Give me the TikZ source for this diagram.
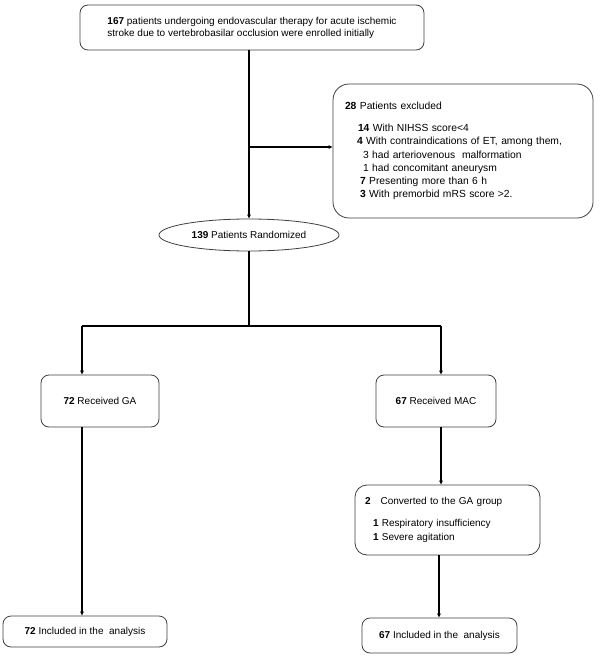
\documentclass[tikz,border=0pt]{standalone}
\usepackage{fontspec}
\setmainfont{Liberation Sans}
\usetikzlibrary{arrows.meta,shapes.geometric}
\begin{document}
\begin{tikzpicture}[x=1pt,y=-1pt,
  box/.style={draw=black!75, line width=0.8pt, rounded corners=8pt, inner sep=0pt, font=\fontsize{10}{12}\selectfont},
  conn/.style={line width=1.4pt, black},
  arr/.style={conn, -{Triangle[length=4pt,width=3.5pt]}}]
\useasboundingbox (0,0) rectangle (600,658);
\fill[white] (0,0) rectangle (600,658);

\node[box, minimum width=344pt, minimum height=45pt, align=left] (top) at (252,27.5)
  {\textbf{167} patients undergoing endovascular therapy for acute ischemic\\
   stroke due to vertebrobasilar occlusion were enrolled initially};

\node[box, rounded corners=16pt, minimum width=260pt, minimum height=134pt, align=left,
      font=\fontsize{10.3}{13.2}\selectfont, text width=236pt] (excl) at (463,151)
  {\textbf{28} Patients excluded\\[9pt]
   \hspace*{13pt}\textbf{14} With NIHSS score<4\\
   \hspace*{12pt}\textbf{4} With contraindications of ET, among them,\\
   \hspace*{18pt}3 had arteriovenous\ \ malformation\\
   \hspace*{18pt}1 had concomitant aneurysm\\
   \hspace*{15pt}\textbf{7} Presenting more than 6 h\\
   \hspace*{15pt}\textbf{3} With premorbid mRS score >2.};

\node[draw=black!75, line width=0.8pt, ellipse, minimum width=180pt, minimum height=32pt, inner sep=0pt,
      font=\fontsize{10}{12}\selectfont] (rand) at (249,235) {\textbf{139} Patients Randomized};

\node[box, minimum width=118pt, minimum height=52pt] (ga) at (100,401) {\textbf{72} Received GA};
\node[box, minimum width=120pt, minimum height=52pt] (mac) at (436,401) {\textbf{67} Received MAC};

\node[box, rounded corners=12pt, minimum width=185pt, minimum height=70pt, align=left, text width=165pt,
      font=\fontsize{10}{14}\selectfont] (conv) at (447.5,520)
  {\textbf{2}\ \ \ Converted to the GA group\\[8pt]
   \hspace*{8pt}\textbf{1} Respiratory insufficiency\\
   \hspace*{8pt}\textbf{1} Severe agitation};

\node[box, minimum width=164pt, minimum height=31pt] (inc1) at (85,631.5) {\textbf{72} Included in the\ \ analysis};
\node[box, minimum width=155pt, minimum height=35pt] (inc2) at (439.5,635.5) {\textbf{67} Included in the\ \ analysis};

\coordinate (mid) at (249,147);
\coordinate (split) at (249,326);
\coordinate (L) at (82,326);
\coordinate (R) at (441,326);
\coordinate (C) at (439,555);

\draw[arr] (top.south -| mid) -- (rand.north);
\draw[arr] (mid) -- (mid -| excl.west);
\draw[conn] (rand.south) -- (split);
\draw[conn] (L) -- (R);
\draw[arr] (L) -- (L |- ga.north);
\draw[arr] (R) -- (R |- mac.north);
\draw[arr] (L |- ga.south) -- (L |- inc1.north);
\draw[arr] (R |- mac.south) -- (R |- conv.north);
\draw[arr] (C) -- (C |- inc2.north);
\end{tikzpicture}
\end{document}
